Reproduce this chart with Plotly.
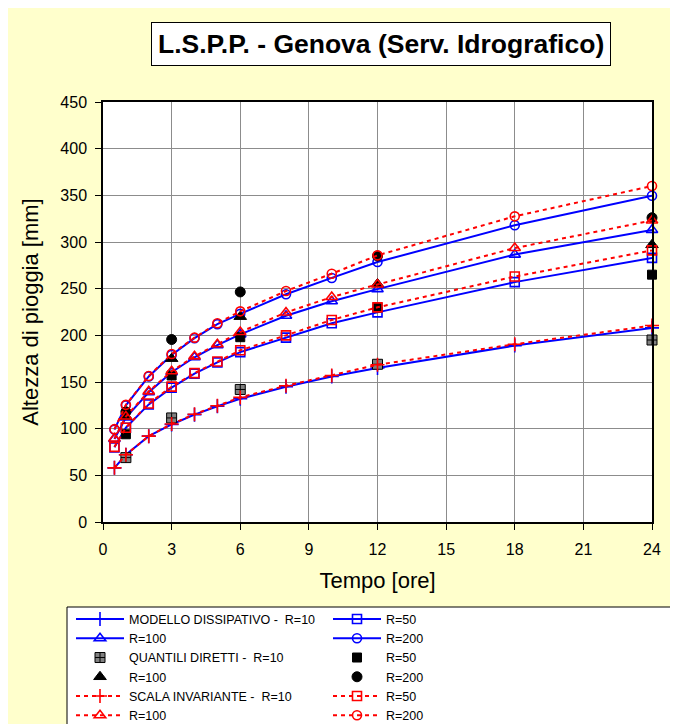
import plotly.graph_objects as go

# ---------------- data ----------------
tempo = [0.5, 1, 2, 3, 4, 5, 6, 8, 10, 12, 18, 24]

mod_R10 = [58, 72, 92, 104.5, 115, 124, 132, 145, 156, 165, 189, 208]
mod_R50 = [80, 101, 126, 144, 159, 171, 182, 197.5, 213, 224.6, 257, 283]
mod_R100 = [89, 112, 139, 160.5, 176.5, 189.5, 201, 221, 236.5, 249.5, 286.5, 313]
mod_R200 = [99, 125, 156, 179, 197, 212, 223, 244, 261.5, 278.5, 318, 349.5]

tempo_q = [1, 3, 6, 12, 24]
q_R10 = [69, 111.5, 142, 169, 195]
q_R50 = [94, 157, 198, 230, 265]
q_R100 = [113, 175, 220, 255, 297]
q_R200 = [118, 195.5, 246.5, 285, 326]

sc_R10 = [58, 72, 92, 105, 115.5, 124.5, 133.5, 146, 157, 168.5, 190.5, 210.5]
sc_R50 = [80.5, 101, 127, 145, 159.5, 172, 184, 200, 216.5, 230, 263, 291]
sc_R100 = [89.5, 113, 140, 161.5, 177.5, 190.5, 203.5, 224.5, 241, 254.5, 293.5, 323]
sc_R200 = [99.5, 125.5, 156.5, 180, 197.5, 213, 225.7, 247.5, 266, 285.7, 327.5, 360]

x_ticks = [0, 3, 6, 9, 12, 15, 18, 21, 24]
y_ticks = [0, 50, 100, 150, 200, 250, 300, 350, 400, 450]

title_text = "L.S.P.P. - Genova (Serv. Idrografico)"
x_title = "Tempo [ore]"
y_title = "Altezza di pioggia [mm]"

# ---------------- figure ----------------
FONT = "Arial, Liberation Sans, sans-serif"
BLUE = "#0000FF"
RED = "#FF0000"

fig = go.Figure()


def model_trace(y, name, symbol, size):
    mk = dict(symbol=symbol, size=size, color=BLUE, line=dict(color=BLUE, width=1.6))
    return go.Scatter(x=tempo, y=y, name=name, mode="lines+markers", cliponaxis=False,
                      line=dict(color=BLUE, width=2), marker=mk)


def scala_trace(y, name, symbol, size):
    mk = dict(symbol=symbol, size=size, color=RED, line=dict(color=RED, width=1.6))
    return go.Scatter(x=tempo, y=y, name=name, mode="lines+markers", cliponaxis=False,
                      line=dict(color=RED, width=2, dash="4px,4px"), marker=mk)


def q_trace(y, name, symbol, size, color="#000000"):
    mk = dict(symbol=symbol, size=size, color=color, line=dict(color="#000000", width=1))
    return go.Scatter(x=tempo_q, y=y, name=name, mode="markers", cliponaxis=False,
                      marker=mk)


traces = [
    model_trace(mod_R10, "MODELLO DISSIPATIVO -  R=10", "cross-thin", 10),
    model_trace(mod_R50, "R=50", "square-open", 9),
    model_trace(mod_R100, "R=100", "triangle-up-open", 10),
    model_trace(mod_R200, "R=200", "circle-open", 9),
    q_trace(q_R10, "QUANTILI DIRETTI -  R=10", "square-cross", 10, "#808080"),
    q_trace(q_R50, "R=50", "square", 9),
    q_trace(q_R100, "R=100", "triangle-up", 11),
    q_trace(q_R200, "R=200", "circle", 10),
    scala_trace(sc_R10, "SCALA INVARIANTE -  R=10", "cross-thin", 10),
    scala_trace(sc_R50, "R=50", "square-open", 9),
    scala_trace(sc_R100, "R=100", "triangle-up-open", 10),
    scala_trace(sc_R200, "R=200", "circle-open", 9),
]
for t in traces:
    fig.add_trace(t)

# page has an 8px body margin; layout numbers below are in figure pixels
OFF = 8
W, H = 678, 724
L, T = 103 - OFF, 102 - OFF
PR, PB = 652 - OFF, 522 - OFF
R, B = W - PR, H - PB
pw, ph = PR - L, PB - T


def sx(px):  # screen x -> paper
    return (px - OFF - L) / pw


def sy(py):  # screen y -> paper
    return (PB - (py - OFF)) / ph


ITEMW = 48
fig.update_layout(
    width=W, height=H,
    margin=dict(l=L, r=R, t=T, b=B, autoexpand=False),
    paper_bgcolor="#FFFFCC",
    plot_bgcolor="#FFFFFF",
    font=dict(family=FONT, color="#000000", size=16),
    showlegend=True,
    legend=dict(
        orientation="h",
        x=sx(129 - ITEMW - 10), xanchor="left",
        y=sy(619 - 14.6), yanchor="top",
        itemwidth=ITEMW,
        entrywidth=257 - ITEMW - 15, entrywidthmode="pixels",
        bgcolor="rgba(0,0,0,0)", borderwidth=0,
        font=dict(family=FONT, size=12.5, color="#000000"),
        traceorder="normal",
    ),
    xaxis=dict(
        range=[0, 24], tickvals=x_ticks, ticktext=[str(v) for v in x_ticks],
        showgrid=True, gridcolor="#8C8C8C", gridwidth=1,
        showline=True, linecolor="#000000", linewidth=1.5, mirror=True,
        ticks="outside", ticklen=6, tickcolor="#000000",
        ticklabelstandoff=6,
        tickfont=dict(family=FONT, size=16),
        zeroline=False,
        title=dict(text=x_title, font=dict(family=FONT, size=22), standoff=16),
    ),
    yaxis=dict(
        range=[0, 450], tickvals=y_ticks, ticktext=[str(v) for v in y_ticks],
        showgrid=True, gridcolor="#8C8C8C", gridwidth=1,
        showline=True, linecolor="#000000", linewidth=1.5, mirror=True,
        ticks="outside", ticklen=6, tickcolor="#000000",
        ticklabelstandoff=5,
        tickfont=dict(family=FONT, size=16),
        zeroline=False,
        title=dict(text=y_title, font=dict(family=FONT, size=22), standoff=16),
    ),
)

# legend frame
fig.add_shape(type="rect", xref="paper", yref="paper",
              x0=sx(67), x1=sx(700),
              y0=sy(607), y1=sy(760),
              line=dict(color="#000000", width=1), fillcolor="#FFFFFF", layer="below")

# title box
fig.add_annotation(
    text="<b>" + title_text + "</b>",
    xref="paper", yref="paper",
    x=sx(381), y=sy(44),
    xanchor="center", yanchor="middle", showarrow=False,
    font=dict(family=FONT, size=26.5, color="#000000"),
    bgcolor="#FFFFFF", bordercolor="#000000", borderwidth=1, borderpad=6,
)

fig.write_html("out.html")
